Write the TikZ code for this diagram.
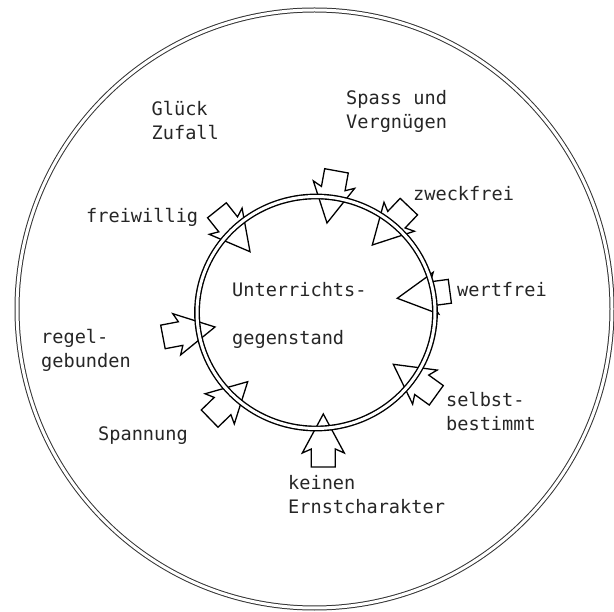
\documentclass[tikz,border=0pt]{standalone}
\usepackage{fontspec}
\setmonofont{DejaVu Sans Mono}
\begin{document}
\begin{tikzpicture}[x=1pt,y=-1pt,
  lbl/.style={font=\ttfamily\fontsize{18.6}{24.3}\selectfont, text=black!85, inner sep=0pt, anchor=base west, align=left},
  arrowline/.style={draw=black, line width=1.3pt, line join=miter},
  ring/.style={draw=black, line width=1.4pt, double=white, double distance=3pt},
  outerring/.style={draw=black!80, line width=1pt, double=white, double distance=3pt},
  blockarrow/.pic={\draw[arrowline] (0,0) -- (-39,21) -- (-35,12) -- (-53,12) -- (-53,-12) -- (-35,-12) -- (-39,-21) -- cycle;}
]
\useasboundingbox (0,0) rectangle (614,612);
% outer circle
\draw[outerring] (314.5,309) ellipse [x radius=297.5, y radius=299];
% block arrows
\pic (aspass) [rotate=-100.3] at (327,223) {blockarrow};
\pic (azweck) [rotate=-133.6] at (372.3,245) {blockarrow};
\pic (awert)  [rotate=-172.4] at (397.3,298.3) {blockarrow};
\pic (aselbst)[rotate=144.2]  at (393.3,364.3) {blockarrow};
\pic (akein)  [rotate=90]     at (323.3,414) {blockarrow};
\pic (aspann) [rotate=44.1]   at (247.7,381.7) {blockarrow};
\pic (aregel) [rotate=10.8]   at (215,327) {blockarrow};
\pic (afrei)  [rotate=-51.4]  at (250,251.7) {blockarrow};
% inner circle
\draw[ring] (316,312.5) ellipse [x radius=119, y radius=116];
% labels (anchor = baseline of last line)
\node[lbl] (center) at (232,344.5) {Unterrichts-\\[23.7pt]gegenstand};
\node[lbl] (glueck) at (151.5,139.8) {Glück\\Zufall};
\node[lbl] (spass) at (346,128.4) {Spass und\\Vergnügen};
\node[lbl] (zweck) at (413,200.5) {zweckfrei};
\node[lbl] (frei) at (86,223) {freiwillig};
\node[lbl] (wert) at (457,296.4) {wertfrei};
\node[lbl] (regel) at (41,368) {regel-\\gebunden};
\node[lbl] (spann) at (98,440.5) {Spannung};
\node[lbl] (selbst) at (446,430.7) {selbst-\\bestimmt};
\node[lbl] (kein) at (288,513.7) {keinen\\Ernstcharakter};
\end{tikzpicture}
\end{document}
